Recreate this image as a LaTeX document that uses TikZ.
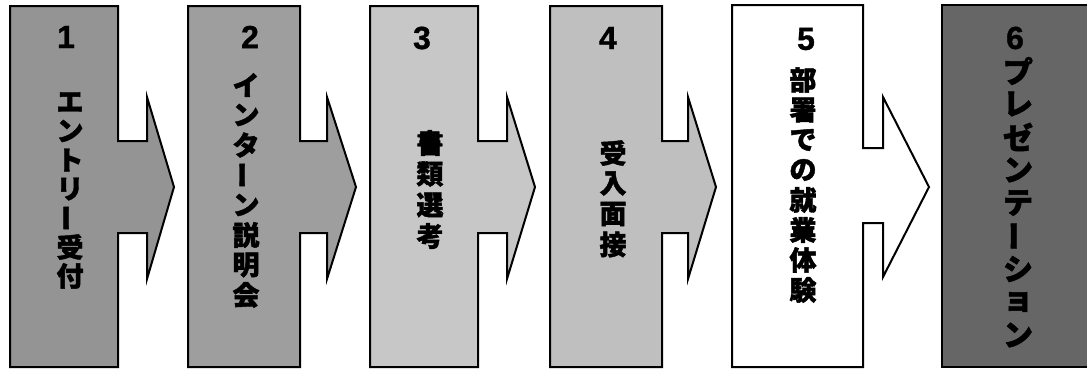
\documentclass[tikz,border=0pt]{standalone}
\usepackage{fontspec}
\usepackage{graphicx}
\newfontfamily\jpfont[BoldFeatures={FakeBold=1.6}]{Noto Sans CJK JP}
\newfontfamily\numfont[BoldFeatures={FakeBold=1}]{Liberation Sans}
\definecolor{cA}{gray}{0.58}
\definecolor{cB}{gray}{0.62}
\definecolor{cC}{gray}{0.78}
\definecolor{cD}{gray}{0.75}
\definecolor{cE}{gray}{1.00}
\definecolor{cF}{gray}{0.40}
\newcommand\vbar{\rotatebox[origin=c]{90}{ー}}
\def\jpsz{27}
\tikzset{
  stepshape/.style={draw=black, line width=2pt, line join=miter},
  jpchar/.style={font=\jpfont\bfseries\fontsize{\jpsz}{\jpsz}\selectfont, inner sep=0pt, anchor=center},
  numlabel/.style={font=\numfont\bfseries\fontsize{32}{32}\selectfont, inner sep=0pt, anchor=center}
}
\newcommand\arrowbox[5]{% fill, L, R, HB, tip
  \path[stepshape, fill=#1] (#2,6) -- (#3,6) -- (#3,141) -- (#4,141) -- (#4,97)
    -- (#5,187) -- (#4,279) -- (#4,233) -- (#3,233) -- (#3,367) -- (#2,367) -- cycle;}
\newcommand\vcol[5]{% name, x, y of first centre, pitch, list
  \foreach \ch [count=\k] in {#5} {
    \node[jpchar] (#1-\k) at (#2, {#3+(\k-1)*#4}) {\ch};
  }}
\begin{document}
\begin{tikzpicture}[x=1pt,y=-1pt]
\useasboundingbox (0,0) rectangle (1087,370);
% arrow boxes
\arrowbox{cA}{10}{118}{147}{174}
\arrowbox{cB}{188}{300}{327}{356}
\arrowbox{cC}{370}{478}{507}{535}
\arrowbox{cD}{550}{662}{688}{716}
\path[stepshape, fill=cE] (732,5) -- (863,5) -- (863,148) -- (883,148) -- (883,97)
  -- (929,187) -- (883,277) -- (883,223) -- (863,223) -- (863,367) -- (732,367) -- cycle;
\path[stepshape, fill=cF] (942,5) -- (1100,5) -- (1100,367) -- (942,367) -- cycle;
% numbers
\node[numlabel] (n1) at (66,37) {1};
\node[numlabel] (n2) at (250,37) {2};
\node[numlabel] (n3) at (422,38) {3};
\node[numlabel] (n4) at (608,38) {4};
\node[numlabel] (n5) at (806,39) {5};
\node[numlabel] (n6) at (1015,38) {6};
% vertical texts
\vcol{t1}{70}{102}{29}{エ,ン,ト,リ,\vbar,受,付}
\vcol{t2}{246}{85}{30}{イ,ン,タ,\vbar,ン,説,明,会}
\vcol{t3}{430}{143}{31}{書,類,選,考}
\vcol{t4}{613}{153}{30.5}{受,入,面,接}
\vcol{t5}{803}{80}{30}{部,署,で,の,就,業,体,験}
\begingroup
\def\jpsz{30}
\vcol{t6}{1018}{71}{33}{プ,レ,ゼ,ン,テ,\vbar,シ,ョ,ン}
\endgroup
\end{tikzpicture}
\end{document}
